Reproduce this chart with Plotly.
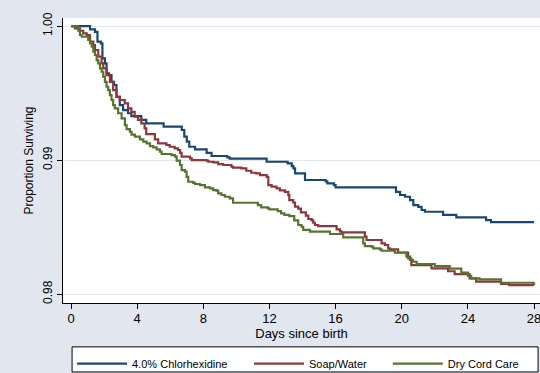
import plotly.graph_objects as go

# ---- data ----
chx_days = [0, 1.15, 1.45, 1.6, 1.8, 1.9, 2.05, 2.15, 2.3, 2.45, 2.6, 2.75, 2.95, 3.15, 3.45, 3.65,
            4.25, 4.55, 5.6, 6.7, 6.85, 7.0, 7.15, 7.5, 8.2, 8.5, 9.45, 9.6, 11.83, 13.1, 13.35,
            13.45, 13.55, 14.15, 15.4, 15.5, 15.9, 16.0, 19.65, 19.9, 20.2, 20.5, 20.7, 21.0,
            21.2, 21.4, 22.5, 23.3, 25.1, 25.4, 28.0]
chx_surv = [1.0, 0.99975, 0.99957, 0.99883, 0.99871, 0.99759, 0.99722, 0.99647, 0.99634, 0.99584,
            0.9956, 0.99472, 0.9941, 0.99373, 0.99349, 0.99328, 0.99299, 0.99274, 0.99249, 0.99224,
            0.99174, 0.99137, 0.99099, 0.9908, 0.99054, 0.9903, 0.9902, 0.9901, 0.98987, 0.98975,
            0.98955, 0.98938, 0.98901, 0.98851, 0.9884, 0.98826, 0.98813, 0.98796, 0.98763,
            0.98739, 0.98726, 0.98701, 0.98664, 0.98651, 0.98627, 0.98614, 0.9859, 0.98572,
            0.98552, 0.98537, 0.98537]

soap_days = [0, 0.24, 0.54, 0.74, 0.95, 1.15, 1.35, 1.45, 1.65, 1.85, 1.95, 2.15, 2.35, 2.55, 2.75,
             2.95, 3.25, 3.45, 3.65, 3.85, 4.05, 4.25, 4.45, 4.55, 5.07, 5.27, 5.77, 5.97, 6.27,
             6.47, 6.6, 6.69, 7.2, 7.3, 8.2, 8.3, 8.6, 8.9, 9.2, 9.7, 9.8, 10.3, 10.6, 10.9, 11.2,
             11.43, 11.83, 11.93, 12.13, 12.43, 12.63, 12.93, 13.14, 13.2, 13.44, 13.54, 13.74,
             13.9, 14.2, 14.35, 14.55, 14.65, 14.75, 14.95, 16.06, 16.26, 16.36, 17.77, 17.87,
             18.78, 18.98, 19.18, 19.28, 19.78, 20.38, 20.5, 20.58, 21.8, 22.8, 23.2, 24.1, 24.5,
             26.0, 26.5, 28.0]
soap_surv = [1.0, 0.99983, 0.99965, 0.99946, 0.99933, 0.99883, 0.99858, 0.99821, 0.99771, 0.99722,
             0.99684, 0.99634, 0.99584, 0.99522, 0.99472, 0.99448, 0.99423, 0.99386, 0.9936,
             0.99323, 0.99299, 0.99274, 0.99237, 0.99194, 0.99154, 0.99125, 0.99112, 0.99099,
             0.99087, 0.99075, 0.99054, 0.99025, 0.99013, 0.99, 0.98995, 0.98987, 0.98983, 0.9897,
             0.98963, 0.9895, 0.98943, 0.98938, 0.9892, 0.98905, 0.98901, 0.98888, 0.98875,
             0.98813, 0.98801, 0.98788, 0.98774, 0.98763, 0.98739, 0.98701, 0.98683, 0.98652,
             0.98637, 0.9861, 0.98585, 0.9856, 0.9855, 0.98532, 0.98515, 0.98507, 0.98483,
             0.98468, 0.9846, 0.98428, 0.98403, 0.98378, 0.98366, 0.98341, 0.98333, 0.9831,
             0.98279, 0.98254, 0.98216, 0.98192, 0.9817, 0.98149, 0.98117, 0.98092, 0.98075,
             0.98067, 0.98067]

dry_days = [0, 0.34, 0.44, 0.54, 0.65, 1.04, 1.15, 1.25, 1.35, 1.45, 1.55, 1.65, 1.75, 1.85, 1.95,
            2.05, 2.15, 2.25, 2.35, 2.45, 2.55, 2.65, 2.85, 3.06, 3.26, 3.36, 3.56, 3.66, 3.86,
            4.17, 4.37, 4.57, 4.77, 4.97, 5.18, 5.38, 5.48, 6.08, 6.29, 6.39, 6.59, 6.69, 6.89,
            6.99, 7.09, 7.39, 7.5, 7.8, 8.1, 8.4, 8.6, 8.8, 8.9, 9.1, 9.3, 9.6, 9.8, 11.3, 11.5,
            11.9, 12.0, 12.5, 12.7, 12.9, 13.2, 13.5, 13.74, 13.94, 14.04, 14.45, 15.66, 16.46,
            17.67, 17.77, 18.17, 18.28, 18.68, 18.78, 19.58, 20.28, 20.38, 20.58, 20.68, 20.9,
            22.0, 22.9, 23.6, 24.0, 24.2, 24.7, 26.0, 27.95, 28.0]
dry_surv = [1.0, 0.99995, 0.99965, 0.99933, 0.9992, 0.99896, 0.99871, 0.99846, 0.99808, 0.99784,
            0.99746, 0.99722, 0.99684, 0.99659, 0.99622, 0.99584, 0.99547, 0.99522, 0.99485,
            0.99448, 0.9941, 0.99386, 0.99349, 0.99311, 0.99261, 0.9923, 0.99211, 0.9919, 0.99174,
            0.99154, 0.99137, 0.99125, 0.99104, 0.99095, 0.9908, 0.99062, 0.99045, 0.99037,
            0.99025, 0.98995, 0.98963, 0.98925, 0.98913, 0.98875, 0.98838, 0.9883, 0.98821,
            0.98813, 0.98796, 0.98788, 0.98776, 0.98771, 0.98751, 0.98739, 0.98726, 0.98714,
            0.98681, 0.98664, 0.98647, 0.98639, 0.98632, 0.98619, 0.98602, 0.9859, 0.98582,
            0.9855, 0.98515, 0.98502, 0.98478, 0.98465, 0.98448, 0.98423, 0.98378, 0.98358,
            0.98353, 0.98341, 0.98333, 0.98323, 0.98308, 0.98279, 0.98266, 0.98254, 0.98241,
            0.98224, 0.98209, 0.9819, 0.9816, 0.98135, 0.98117, 0.9811, 0.98084, 0.9808, 0.98067]

series_names = ["4.0% Chlorhexidine", "Soap/Water", "Dry Cord Care"]
series_colors = ["#1a476f", "#90353b", "#55752f"]

x_ticks = [0, 4, 8, 12, 16, 20, 24, 28]
y_ticks = [0.98, 0.99, 1.00]
y_tick_labels = ["0.98", "0.99", "1.00"]

BG = "#e1e6ef"
FONT = "Liberation Sans, Arial, sans-serif"

legend_ids = ["legend", "legend2", "legend3"]
legend_x = [0.019, 0.390, 0.681]

fig = go.Figure()
for d, s, n, c, lg in zip([chx_days, soap_days, dry_days], [chx_surv, soap_surv, dry_surv],
                          series_names, series_colors, legend_ids):
    fig.add_trace(go.Scatter(x=d, y=s, mode="lines", name=n, legend=lg,
                             line=dict(color=c, width=2.2, shape="hv")))

# legend frame (Stata-style full-width box under the plot)
fig.add_shape(type="rect", xref="paper", yref="paper",
              x0=0.019, x1=0.996, y0=-0.242, y1=-0.154,
              line=dict(color="black", width=1), fillcolor="white", layer="below")

legend_style = dict(orientation="h", xanchor="left", y=-0.162, yanchor="top",
                    bgcolor="rgba(0,0,0,0)", borderwidth=0,
                    font=dict(size=11), itemwidth=50, tracegroupgap=0)

fig.update_layout(
    width=540, height=373,
    margin=dict(l=63, r=0, t=18, b=70, autoexpand=False),
    paper_bgcolor=BG, plot_bgcolor="white",
    font=dict(family=FONT, size=12, color="black"),
    showlegend=True,
    legend=dict(x=legend_x[0], **legend_style),
    legend2=dict(x=legend_x[1], **legend_style),
    legend3=dict(x=legend_x[2], **legend_style),
)
fig.update_xaxes(range=[-0.484, 28.36], tickvals=x_ticks, ticks="outside", ticklen=5,
                 tickcolor="black", showline=True, linecolor="black", linewidth=1,
                 showgrid=False, zeroline=False, automargin=False,
                 ticklabeloverflow="allow", ticklabelstandoff=-2,
                 title=dict(text="Days since birth", standoff=0, font=dict(size=13)),
                 tickfont=dict(size=13))
fig.update_yaxes(range=[0.97933, 1.0006], tickvals=y_ticks, ticktext=y_tick_labels,
                 tickangle=-90, ticks="outside", ticklen=5, tickcolor="black",
                 showline=True, linecolor="black", linewidth=1,
                 showgrid=True, gridcolor="#e1e6ef", gridwidth=1, zeroline=False,
                 automargin=False,
                 title=dict(text="Proportion Surviving", standoff=5, font=dict(size=12)),
                 tickfont=dict(size=12))

fig.write_html(
    "out.html",
    config={"displayModeBar": False},
    post_script="document.body.style.margin='0';document.body.style.overflow='hidden';"
                "document.body.style.background='" + BG + "';",
)
